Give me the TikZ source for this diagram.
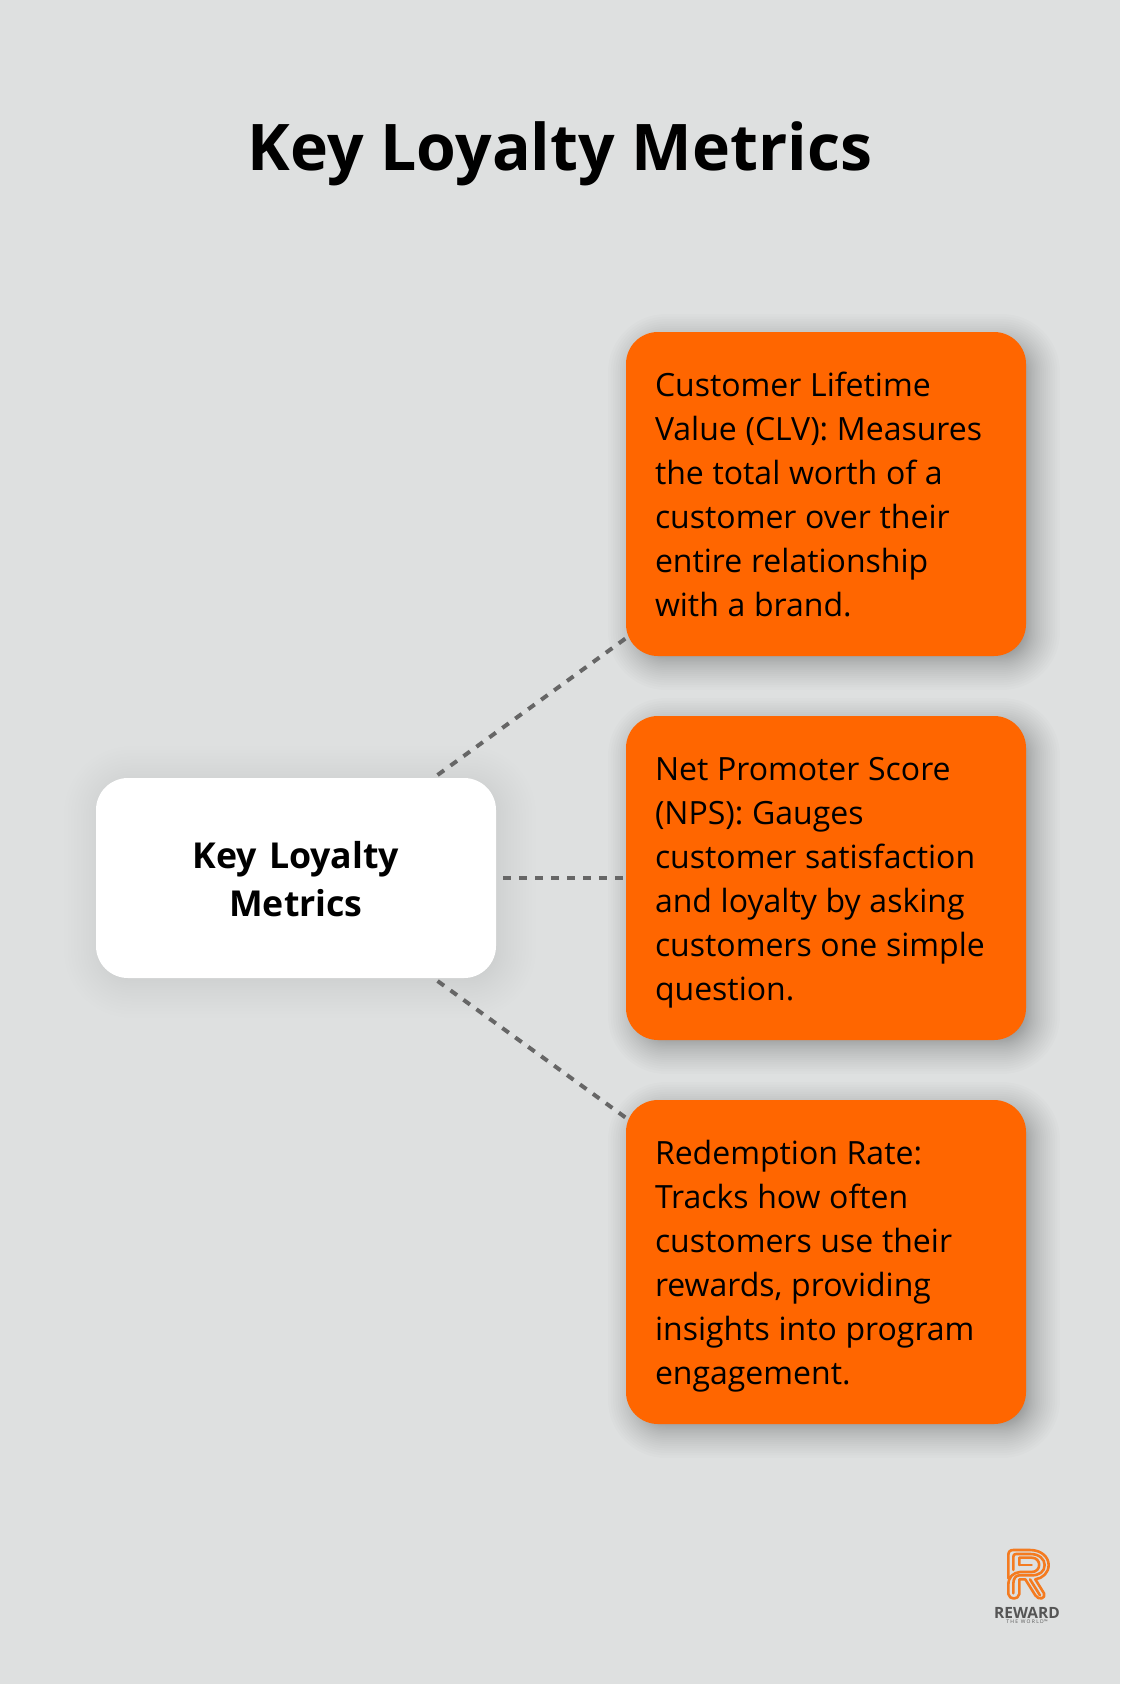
\documentclass[tikz,border=0pt]{standalone}
\usepackage{fontspec}
\setmainfont{Open Sans}
\definecolor{bgc}{HTML}{DEE0E0}
\definecolor{orangec}{HTML}{FF6600}
\definecolor{dashc}{HTML}{666666}
\definecolor{logoc}{HTML}{F47B20}
\definecolor{logot}{HTML}{555555}
\newcommand{\softshadow}[7]{%
  \foreach \i in {0,...,30}{%
    \pgfmathsetmacro{\e}{#7*(1.5*(1-\i/30)*(1-\i/30)-0.5)}
    \pgfmathsetmacro{\rr}{max(32+\e,2)}
    \fill[black,opacity=#6,rounded corners=\rr pt]
      ({#1-\e+#5},{#2-\e+#5}) rectangle ({#3+\e+#5},{#4+\e+#5});
  }%
}
\newcommand{\metricstart}{\spaceskip=8.7pt\relax\rule{0pt}{37.4pt}}
\newcommand{\hubstart}{\rule{0pt}{44.2pt}}
\tikzset{
  box/.style={rectangle,rounded corners=32pt,minimum width=400pt,outer sep=0pt,inner sep=0pt},
  metric/.style={box,fill=orangec,text=black,minimum height=324pt,text width=342pt,align=left,
    font=\fontsize{32}{44}\selectfont},
  hub/.style={box,fill=white,text=black,minimum height=200pt,text width=340pt,align=center,outer sep=3pt,
    font=\fontsize{35.7}{48}\selectfont\bfseries},
  link/.style={draw=dashc,line width=4pt,dash pattern=on 8pt off 8pt},
  logoline/.style={draw=logoc,line width=2.6pt,line join=round,line cap=round}
}
\begin{document}
\begin{tikzpicture}[x=1pt,y=-1pt]
\useasboundingbox (0,0) rectangle (1120,1684);
\fill[bgc] (0,0) rectangle (1120,1684);
\softshadow{96}{778}{496}{978}{4}{0.005}{36}
\softshadow{626}{332}{1026}{656}{8}{0.012}{26}
\softshadow{626}{716}{1026}{1040}{8}{0.012}{26}
\softshadow{626}{1100}{1026}{1424}{8}{0.012}{26}
\node[text=black,font=\fontsize{64.3}{76}\selectfont\bfseries] (title) at (560,153.5) {Key Loyalty Metrics};
\node[hub] (hubnode) at (296,878) {\hubstart Key Loyalty\\Metrics\strut};
\node[metric] (clv) at (826,494) {\metricstart Customer Lifetime\\Value (CLV): Measures\\the total worth of a\\customer over their\\entire relationship\\with a brand.\strut};
\node[metric] (nps) at (826,878) {\metricstart Net Promoter Score\\(NPS): Gauges\\customer satisfaction\\and loyalty by asking\\customers one simple\\question.\strut};
\node[metric] (rr) at (826,1262) {\metricstart Redemption Rate:\\Tracks how often\\customers use their\\rewards, providing\\insights into program\\engagement.\strut};
\draw[link] (hubnode) -- (clv);
\draw[link,dash phase=12pt] (hubnode) -- (nps);
\draw[link] (hubnode) -- (rr);
\begin{scope}[shift={(960,1520)},x=0.3333pt,y=-0.3333pt]
  \draw[logoline] (145,175) -- (145,105) .. controls (145,95) and (150,90) .. (160,90) -- (210,90)
    .. controls (245,90) and (266,112) .. (266,135) .. controls (266,158) and (248,175) .. (226,178)
    -- (252,220) .. controls (258,236) and (236,242) .. (226,226) -- (196,178) -- (178,178) -- (178,222)
    .. controls (175,240) and (148,240) .. (145,222) -- (145,195) .. controls (145,170) and (160,158) .. (180,156)
    -- (215,156) .. controls (245,156) and (245,113) .. (215,113) -- (178,113) -- (178,135);
  \draw[logoline] (160,150) -- (160,110) .. controls (160,104) and (163,102) .. (168,102) -- (212,102)
    .. controls (238,102) and (254,118) .. (254,135) .. controls (254,155) and (238,166) .. (215,166)
    -- (178,166) .. controls (168,166) and (160,175) .. (160,190) -- (160,220);
  \draw[logoline] (178,135) -- (215,135) ;
  \draw[logoline] (210,178) -- (240,226);
\end{scope}
\node[text=logot,font=\fontsize{15.5}{17}\selectfont\bfseries,inner sep=0pt] (brand) at (1027,1613) {REWARD};
\node[text=logot,font=\fontsize{5}{6}\selectfont,inner sep=0pt] (tagline) at (1027,1622) {T H E\ \ W O R L D™};
\end{tikzpicture}
\end{document}
